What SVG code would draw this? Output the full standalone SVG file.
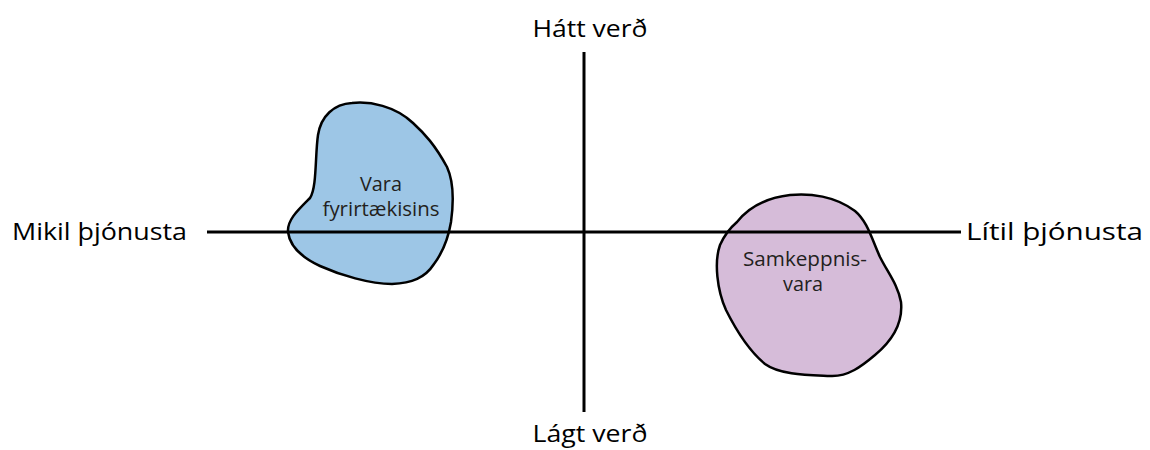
<svg xmlns="http://www.w3.org/2000/svg" width="1150" height="450" viewBox="0 0 1150 450">
<style>
.lbl{font-family:"Open Sans","DejaVu Sans",sans-serif;font-size:24px;fill:#000}
.in{font-family:"Open Sans","DejaVu Sans",sans-serif;font-size:20px;fill:#231f20;text-anchor:middle}
.blob{stroke:#000;stroke-width:2.5;stroke-linejoin:round}
.axis{stroke:#000;stroke-width:3;fill:none}
</style>
<rect width="1150" height="450" fill="#fff"/>
<g id="blob-vara">
<path class="blob" fill="#9dc6e6" d="M318,135 C321,116 334,104 352,103 C370,101 395,106 413,123 C425,134 435,145 447,167 C453,180 454,200 451,222 C448,240 443,252 434,264 C425,278 412,283 392,284 C370,284 340,275 320,266 C305,259 290,248 288,232 C287,220 298,210 310,198 C317,188 315,155 318,135 Z"/>
<text class="in" x="381" y="191" textLength="42" lengthAdjust="spacingAndGlyphs">Vara</text>
<text class="in" x="381" y="216" textLength="117" lengthAdjust="spacingAndGlyphs">fyrirtækisins</text>
</g>
<g id="blob-samkeppnis">
<path class="blob" fill="#d6bcd9" d="M737,222 C748,208 765,198 790,195 C810,193 835,196 855,211 C868,222 872,240 880,257 C888,273 898,285 901,302 C903,322 893,340 875,355 C862,366 848,377 830,376 C808,375 780,375 765,364 C748,350 736,330 726,310 C717,290 714,262 720,245 C724,236 730,228 737,222 Z"/>
<text class="in" x="805" y="266" textLength="124" lengthAdjust="spacingAndGlyphs">Samkeppnis-</text>
<text class="in" x="803" y="291" textLength="40" lengthAdjust="spacingAndGlyphs">vara</text>
</g>
<g id="connectors">
<line class="axis" x1="207" y1="232" x2="961" y2="232"/>
<line class="axis" x1="584" y1="52" x2="584" y2="412"/>
</g>
<g id="labels">
<text class="lbl" x="12" y="240" textLength="175" lengthAdjust="spacingAndGlyphs">Mikil þjónusta</text>
<text class="lbl" x="966" y="240" textLength="177" lengthAdjust="spacingAndGlyphs">Lítil þjónusta</text>
<text class="lbl" x="590" y="37" text-anchor="middle" textLength="115" lengthAdjust="spacingAndGlyphs">Hátt verð</text>
<text class="lbl" x="590" y="442" text-anchor="middle" textLength="115" lengthAdjust="spacingAndGlyphs">Lágt verð</text>
</g>
</svg>
